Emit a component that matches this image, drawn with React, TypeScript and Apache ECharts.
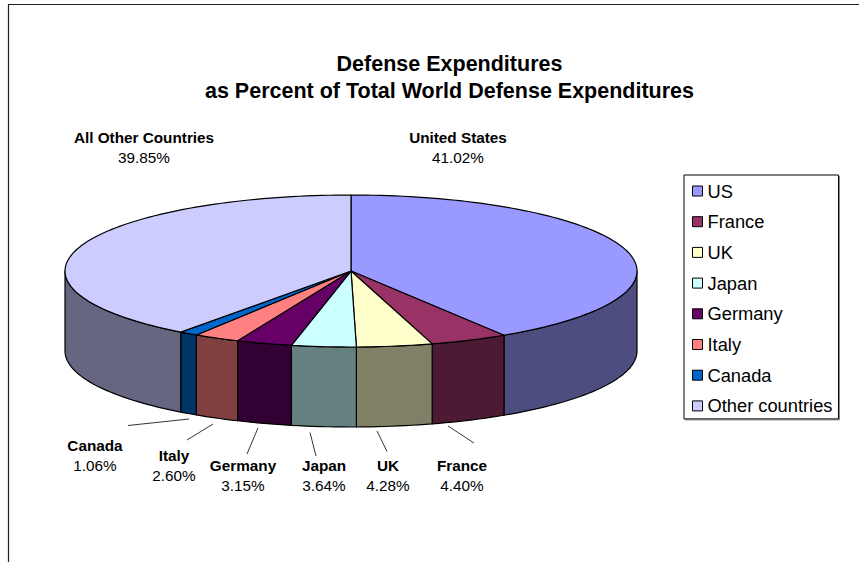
import React, { useEffect, useRef } from "react";
import * as echarts from "echarts";

const legendNames = ["US", "France", "UK", "Japan", "Germany", "Italy", "Canada", "Other countries"];
const labelNames = ["United States", "France", "UK", "Japan", "Germany", "Italy", "Canada", "All Other Countries"];
const shares = [41.02, 4.4, 4.28, 3.64, 3.15, 2.6, 1.06, 39.85];
const topColors = ["#9999FF", "#993366", "#FFFFCC", "#CCFFFF", "#660066", "#FF8080", "#0066CC", "#CCCCFF"];
const wallColors = ["#4D4D80", "#4D1A33", "#808066", "#668080", "#330033", "#804040", "#003366", "#666680"];

// layout
const CX = 351, CY = 271, RX = 286, RY = 76, DEPTH = 80;
const FONT = '"Liberation Sans", Arial, sans-serif';
const labelAnchors: [number, number][] = [
  [458, 137], [462, 465], [388, 465], [324, 465], [243, 465], [174, 455], [95, 445], [144, 137],
];
const leaders: ([number, number, number, number] | null)[] = [
  null, [448, 426, 474, 443], [377, 431, 387, 451.5], [310, 432.5, 316, 456],
  [258, 428, 247, 454], [213, 424, 187, 440], [189, 419, 128, 425.5], null,
];

const total = shares.reduce((a, b) => a + b, 0);
const pointAt = (deg: number, dy = 0): number[] => {
  const r = (deg * Math.PI) / 180;
  return [CX + RX * Math.sin(r), CY - RY * Math.cos(r) + dy];
};
const arc = (a: number, b: number, dy = 0): number[][] => {
  const n = Math.max(2, Math.ceil(Math.abs(b - a) / 1.5));
  const out: number[][] = [];
  for (let i = 0; i <= n; i++) out.push(pointAt(a + ((b - a) * i) / n, dy));
  return out;
};

function makeRenderItem(index: number) {
  const before = shares.slice(0, index).reduce((a, b) => a + b, 0);
  return (_params: any, api: any) => {
    const value = api.value(0) as number;
    const a0 = (before / total) * 360;
    const a1 = ((before + value) / total) * 360;
    const children: any[] = [];
    const stroke = { stroke: "#000", lineWidth: 1.2, lineJoin: "round" };

    const w0 = Math.max(a0, 90), w1 = Math.min(a1, 270);
    if (w1 > w0) {
      children.push({
        type: "polygon",
        shape: { points: [...arc(w0, w1), ...arc(w1, w0, DEPTH)] },
        style: { fill: wallColors[index], ...stroke },
      });
    }
    children.push({
      type: "polygon",
      shape: { points: [[CX, CY], ...arc(a0, a1)] },
      style: { fill: topColors[index], ...stroke },
    });
    const l = leaders[index];
    if (l) {
      children.push({
        type: "line",
        shape: { x1: l[0], y1: l[1], x2: l[2], y2: l[3] },
        style: { stroke: "#000", lineWidth: 0.8 },
      });
    }
    const [lx, ly] = labelAnchors[index];
    children.push({
      type: "text",
      style: {
        x: lx, y: ly, text: labelNames[index], fill: "#000",
        font: `bold 15.3px ${FONT}`, align: "center", verticalAlign: "middle",
      },
    });
    children.push({
      type: "text",
      style: {
        x: lx, y: ly + 20, text: `${value.toFixed(2)}%`, fill: "#000",
        font: `15.3px ${FONT}`, align: "center", verticalAlign: "middle",
      },
    });
    return { type: "group", children };
  };
}

export default function App() {
  const ref = useRef<HTMLDivElement>(null);
  useEffect(() => {
    document.body.style.margin = "0";
    const chart = echarts.init(ref.current!, undefined, { renderer: "svg" });
    chart.setOption({
      animation: false,
      backgroundColor: "#fff",
      title: {
        text: "Defense Expenditures\nas Percent of Total World Defense Expenditures",
        left: 444.5,
        top: 45,
        textAlign: "center",
        textStyle: { fontFamily: FONT, fontWeight: "bold", fontSize: 21.5, lineHeight: 27, color: "#000" },
      },
      legend: {
        show: true,
        orient: "vertical",
        left: 684,
        top: 175,
        padding: [7, 6, 4, 8],
        data: legendNames,
        icon: "rect",
        itemWidth: 10,
        itemHeight: 10,
        itemGap: 12.7,
        backgroundColor: "#fff",
        borderColor: "#000",
        borderWidth: 1,
        shadowColor: "#888",
        shadowOffsetX: 1,
        shadowOffsetY: 1,
        shadowBlur: 0,
        itemStyle: { borderColor: "#000", borderWidth: 1 },
        textStyle: { fontFamily: FONT, fontSize: 18.3, color: "#000", padding: [0, 0, 0, 0], lineHeight: 18 },
        selectedMode: false,
      },
      graphic: [
        {
          type: "polyline",
          silent: true,
          shape: { points: [[8.5, 562], [8.5, 4.5], [859, 4.5]] },
          style: { stroke: "#222", lineWidth: 1.2, fill: "none" },
        },
      ],
      series: legendNames.map((name, i) => ({
        type: "custom",
        name,
        coordinateSystem: "none",
        silent: true,
        clip: false,
        itemStyle: { color: topColors[i] },
        data: [{ value: [shares[i]], name }],
        renderItem: makeRenderItem(i),
      })),
    });
    return () => chart.dispose();
  }, []);
  return <div ref={ref} style={{ width: 859, height: 562, position: "absolute", left: 0, top: 0 }} />;
}
